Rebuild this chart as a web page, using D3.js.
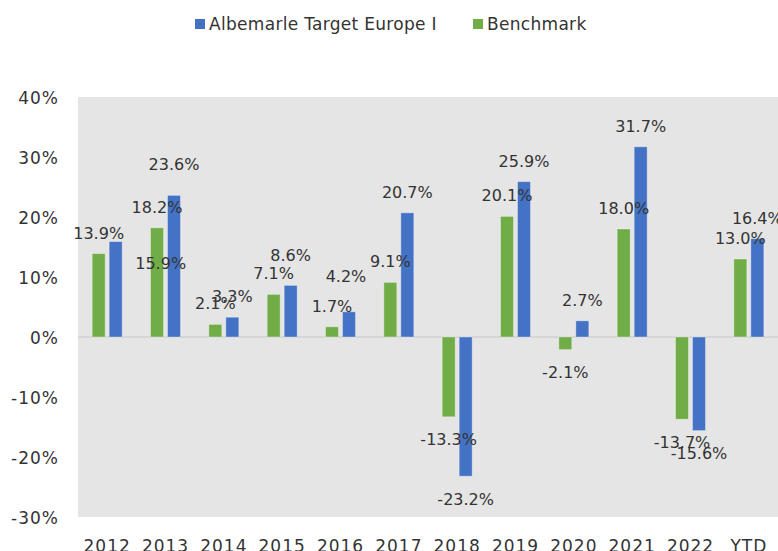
<!DOCTYPE html>
<html>
<head>
<meta charset="utf-8">
<script src="https://cdn.jsdelivr.net/npm/d3@7"></script>
<style>
  body { margin: 0; background: #fff; }
  svg { display: block; font-family: "DejaVu Sans", sans-serif; }
</style>
</head>
<body>
<svg id="chart"></svg>
<script>
const categories = ["2012", "2013", "2014", "2015", "2016", "2017", "2018", "2019", "2020", "2021", "2022", "YTD"];
const seriesNames = ["Albemarle Target Europe I", "Benchmark"];
const fundValues = [15.9, 23.6, 3.3, 8.6, 4.2, 20.7, -23.2, 25.9, 2.7, 31.7, -15.6, 16.4];
const benchValues = [13.9, 18.2, 2.1, 7.1, 1.7, 9.1, -13.3, 20.1, -2.1, 18.0, -13.7, 13.0];
const yTicks = [-30, -20, -10, 0, 10, 20, 30, 40];

// a few labels sit away from their bar in the original, nudge them (px)
const labelNudge = {
  "fund|2012": [45, 42],
  "fund|2013": [0, -10],
  "fund|2015": [0, -9],
  "fund|2016": [-3, -15]
};

const width = 778, height = 551;
const plot = { left: 78, right: 778, top: 97, bottom: 517 };
const colors = { fund: "#4472C4", bench: "#70AD47" };
const textColor = "#333333";

const svg = d3.select("#chart").attr("width", width).attr("height", height);

const x0 = d3.scaleBand().domain(categories).range([plot.left, plot.right]);
const bw = x0.bandwidth();
const x1 = d3.scaleBand().domain(["bench", "fund"])
  .range([bw / 2 - 15, bw / 2 + 15]).paddingInner(4 / 17);
const y = d3.scaleLinear().domain([-30, 40]).range([plot.bottom, plot.top]);

svg.append("rect")
  .attr("x", plot.left).attr("y", plot.top)
  .attr("width", plot.right - plot.left).attr("height", plot.bottom - plot.top)
  .attr("fill", "#e5e5e5");

svg.append("line")
  .attr("x1", plot.left).attr("x2", plot.right)
  .attr("y1", y(0)).attr("y2", y(0))
  .attr("stroke", "#d6d6d6").attr("stroke-width", 2);

const rows = [];
categories.forEach((c, i) => {
  rows.push({ cat: c, key: "bench", v: benchValues[i] });
  rows.push({ cat: c, key: "fund", v: fundValues[i] });
});

svg.append("g").selectAll("rect")
  .data(rows)
  .join("rect")
    .attr("x", d => x0(d.cat) + x1(d.key))
    .attr("y", d => y(Math.max(0, d.v)))
    .attr("width", x1.bandwidth())
    .attr("height", d => Math.abs(y(d.v) - y(0)))
    .attr("fill", d => colors[d.key])
    .attr("stroke", "rgba(255,255,255,0.35)")
    .attr("stroke-width", 1);

svg.append("g").selectAll("text")
  .data(rows)
  .join("text")
    .attr("x", d => {
      const n = labelNudge[d.key + "|" + d.cat] || [0, 0];
      return x0(d.cat) + x1(d.key) + x1.bandwidth() / 2 + n[0];
    })
    .attr("y", d => {
      const n = labelNudge[d.key + "|" + d.cat] || [0, 0];
      return (d.v >= 0 ? y(d.v) - 15 : y(d.v) + 28.5) + n[1];
    })
    .attr("text-anchor", "middle")
    .attr("font-size", 16)
    .attr("fill", textColor)
    .text(d => d.v.toFixed(1) + "%");

// y axis
const yAxis = d3.axisLeft(y).tickValues(yTicks).tickSize(0).tickFormat(d => d + "%");
const gy = svg.append("g").attr("transform", "translate(59,0)").call(yAxis);
gy.select(".domain").remove();
gy.selectAll("text")
  .attr("x", 0).attr("dy", "0.36em")
  .attr("font-size", 17).attr("letter-spacing", 1)
  .attr("font-family", "DejaVu Sans, sans-serif")
  .attr("fill", textColor);

// x axis
const xAxis = d3.axisBottom(x0).tickSize(0);
const gx = svg.append("g").attr("transform", "translate(0," + plot.bottom + ")").call(xAxis);
gx.select(".domain").remove();
gx.selectAll("text")
  .attr("y", 35).attr("dy", 0)
  .attr("font-size", 17).attr("letter-spacing", 1)
  .attr("font-family", "DejaVu Sans, sans-serif")
  .attr("fill", textColor);

// legend
const legend = [
  { name: seriesNames[0], color: colors.fund, x: 195 },
  { name: seriesNames[1], color: colors.bench, x: 473 }
];
const lg = svg.append("g").selectAll("g").data(legend).join("g")
  .attr("transform", d => "translate(" + d.x + ",0)");
lg.append("rect").attr("x", 0).attr("y", 19).attr("width", 10).attr("height", 10)
  .attr("fill", d => d.color);
lg.append("text").attr("x", 14).attr("y", 29.5)
  .attr("font-size", 17).attr("letter-spacing", 0.3)
  .attr("fill", textColor)
  .text(d => d.name);
</script>
</body>
</html>
